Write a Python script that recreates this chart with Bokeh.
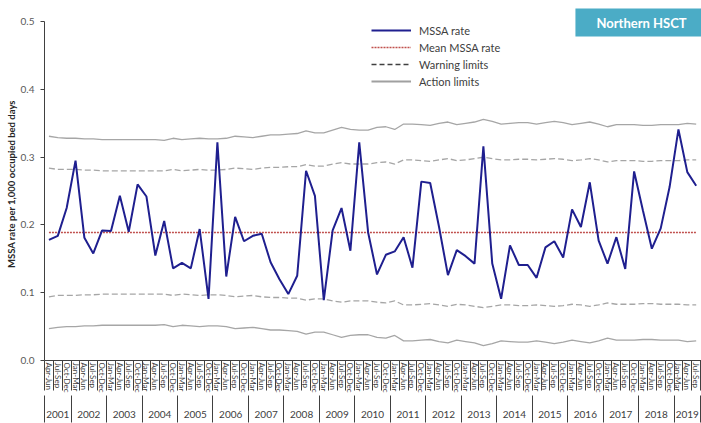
from bokeh.plotting import figure
from bokeh.models import (Range1d, LinearAxis, FixedTicker, Legend, LegendItem,
                          Label, NumeralTickFormatter)
from bokeh.embed import file_html
from bokeh.resources import INLINE

# ---------------- data ----------------
years = ["2001", "2002", "2003", "2004", "2005", "2006", "2007", "2008", "2009", "2010",
         "2011", "2012", "2013", "2014", "2015", "2016", "2017", "2018", "2019"]
first_year_quarters = ["Apr-Jun", "Jul-Sep", "Oct-Dec"]
full_year_quarters = ["Jan-Mar", "Apr-Jun", "Jul-Sep", "Oct-Dec"]
last_year_quarters = ["Jan-Mar", "Apr-Jun", "Jul-Sep"]

mssa_rate = [0.178, 0.184, 0.225, 0.295, 0.181, 0.158, 0.192, 0.191, 0.243, 0.190,
             0.260, 0.242, 0.155, 0.206, 0.136, 0.144, 0.136, 0.194, 0.091, 0.322,
             0.124, 0.212, 0.176, 0.184, 0.187, 0.145, 0.120, 0.098, 0.125, 0.280,
             0.243, 0.089, 0.192, 0.225, 0.162, 0.322, 0.189, 0.127, 0.156, 0.161,
             0.182, 0.137, 0.264, 0.262, 0.197, 0.126, 0.163, 0.154, 0.143, 0.316,
             0.143, 0.091, 0.170, 0.141, 0.141, 0.122, 0.167, 0.176, 0.152, 0.223,
             0.197, 0.263, 0.177, 0.143, 0.182, 0.135, 0.279, 0.221, 0.165, 0.195,
             0.256, 0.341, 0.278, 0.258]

mean_rate = 0.189

upper_action = [0.331, 0.329, 0.328, 0.328, 0.327, 0.327, 0.326, 0.326, 0.326, 0.326,
                0.326, 0.326, 0.326, 0.325, 0.328, 0.326, 0.327, 0.328, 0.327, 0.327,
                0.328, 0.331, 0.330, 0.329, 0.331, 0.333, 0.333, 0.334, 0.335, 0.339,
                0.336, 0.336, 0.340, 0.344, 0.341, 0.340, 0.340, 0.344, 0.345, 0.341,
                0.349, 0.349, 0.348, 0.347, 0.350, 0.352, 0.348, 0.350, 0.352, 0.356,
                0.353, 0.349, 0.350, 0.351, 0.351, 0.349, 0.351, 0.353, 0.351, 0.348,
                0.350, 0.352, 0.349, 0.345, 0.348, 0.348, 0.348, 0.347, 0.347, 0.348,
                0.348, 0.348, 0.350, 0.349]

upper_warning = [0.284, 0.282, 0.282, 0.282, 0.281, 0.281, 0.280, 0.280, 0.280, 0.280,
                 0.280, 0.280, 0.280, 0.280, 0.282, 0.280, 0.281, 0.282, 0.281, 0.281,
                 0.282, 0.284, 0.283, 0.282, 0.284, 0.285, 0.285, 0.286, 0.286, 0.289,
                 0.287, 0.287, 0.290, 0.292, 0.290, 0.290, 0.290, 0.292, 0.293, 0.290,
                 0.296, 0.296, 0.295, 0.294, 0.296, 0.298, 0.295, 0.296, 0.298, 0.300,
                 0.298, 0.296, 0.296, 0.297, 0.297, 0.296, 0.297, 0.298, 0.297, 0.295,
                 0.296, 0.298, 0.296, 0.293, 0.295, 0.295, 0.295, 0.294, 0.294, 0.295,
                 0.295, 0.295, 0.296, 0.296]

lower_warning = [0.094, 0.096, 0.096, 0.096, 0.097, 0.097, 0.098, 0.098, 0.098, 0.098,
                 0.098, 0.098, 0.098, 0.098, 0.096, 0.098, 0.097, 0.096, 0.097, 0.097,
                 0.096, 0.094, 0.095, 0.096, 0.094, 0.093, 0.093, 0.092, 0.092, 0.089,
                 0.091, 0.091, 0.088, 0.086, 0.088, 0.088, 0.088, 0.086, 0.085, 0.088,
                 0.082, 0.082, 0.083, 0.084, 0.082, 0.080, 0.083, 0.082, 0.080, 0.078,
                 0.080, 0.082, 0.082, 0.081, 0.081, 0.082, 0.081, 0.080, 0.081, 0.083,
                 0.082, 0.080, 0.082, 0.085, 0.083, 0.083, 0.083, 0.084, 0.084, 0.083,
                 0.083, 0.083, 0.082, 0.082]

lower_action = [0.047, 0.049, 0.050, 0.050, 0.051, 0.051, 0.052, 0.052, 0.052, 0.052,
                0.052, 0.052, 0.052, 0.053, 0.050, 0.052, 0.051, 0.050, 0.051, 0.051,
                0.050, 0.047, 0.048, 0.049, 0.047, 0.045, 0.045, 0.044, 0.043, 0.039,
                0.042, 0.042, 0.038, 0.034, 0.037, 0.038, 0.038, 0.034, 0.033, 0.037,
                0.029, 0.029, 0.030, 0.031, 0.028, 0.026, 0.030, 0.028, 0.026, 0.022,
                0.025, 0.029, 0.028, 0.027, 0.027, 0.029, 0.027, 0.025, 0.027, 0.030,
                0.028, 0.026, 0.029, 0.033, 0.030, 0.030, 0.030, 0.031, 0.031, 0.030,
                0.030, 0.030, 0.028, 0.029]

y_ticks = [0.0, 0.1, 0.2, 0.3, 0.4, 0.5]

# ---------------- derived positions (category index scale) ----------------
quarters_by_year = [first_year_quarters] + [full_year_quarters] * (len(years) - 2) + [last_year_quarters]
quarter_labels = [q for qs in quarters_by_year for q in qs]
n = len(quarter_labels)
x_centers = [i + 0.5 for i in range(n)]
cat_bounds = [float(i) for i in range(n + 1)]

year_bounds = [0.0]
for qs in quarters_by_year:
    year_bounds.append(year_bounds[-1] + len(qs))
year_centers = [(a + b) / 2 for a, b in zip(year_bounds[:-1], year_bounds[1:])]

FONT = "Lato"
AXIS_COL = "#404040"
TXT_COL = "#404040"
MEAN_COL = "#c0504d"

# frame extends a little above 0.5 so the title box fits inside it
p = figure(width=701, height=423, x_range=Range1d(0, 74.1), y_range=Range1d(0, 0.521),
           output_backend="svg", toolbar_location=None,
           min_border_left=44, min_border_right=0, min_border_top=7, min_border_bottom=63)
p.outline_line_color = None
p.grid.visible = False
p.background_fill_color = "white"

# hidden range used only to style legend samples
p.extra_y_ranges = {"legend_only": Range1d(10, 11)}

# ---------------- y axis ----------------
ya = p.yaxis[0]
ya.ticker = FixedTicker(ticks=y_ticks)
ya.bounds = (0, 0.5)
ya.formatter = NumeralTickFormatter(format="0.0")
ya.minor_tick_line_color = None
ya.major_tick_out = 4
ya.major_tick_in = 0
ya.major_tick_line_color = AXIS_COL
ya.axis_line_color = AXIS_COL
ya.major_label_text_font = FONT
ya.major_label_text_font_size = "10px"
ya.major_label_text_color = "#595959"
ya.major_label_standoff = 6
ya.axis_label = "MSSA rate per 1,000 occupied bed days"
ya.axis_label_text_font = FONT
ya.axis_label_text_font_size = "9.5px"
ya.axis_label_text_font_style = "bold"
ya.axis_label_text_color = "#262626"
ya.axis_label_standoff = 1

# ---------------- x axis: quarter labels ----------------
xa = p.xaxis[0]
xa.ticker = FixedTicker(ticks=x_centers, minor_ticks=cat_bounds)
xa.major_label_overrides = {c: lab for c, lab in zip(x_centers, quarter_labels)}
xa.major_tick_line_color = None
xa.major_tick_out = 0
xa.major_tick_in = 0
xa.minor_tick_out = 30
xa.minor_tick_in = 0
xa.minor_tick_line_color = AXIS_COL
xa.axis_line_color = AXIS_COL
xa.major_label_orientation = "vertical"
xa.major_label_standoff = -28
xa.major_label_text_font = FONT
xa.major_label_text_font_size = "8px"
xa.major_label_text_color = TXT_COL

# ---------------- x axis: year groups ----------------
xa2 = LinearAxis(ticker=FixedTicker(ticks=year_centers, minor_ticks=year_bounds),
                 major_label_overrides={c: y for c, y in zip(year_centers, years)},
                 axis_line_color=None, major_tick_line_color=None,
                 major_tick_out=0, major_tick_in=0,
                 minor_tick_out=27, minor_tick_in=0, minor_tick_line_color=AXIS_COL,
                 major_label_standoff=-12, major_label_text_font=FONT,
                 major_label_text_font_size="10px", major_label_text_color=TXT_COL)
p.add_layout(xa2, "below")

# ---------------- series ----------------
r_ua = p.line(x_centers, upper_action, color="#a6a6a6", line_width=1.3)
p.line(x_centers, lower_action, color="#a6a6a6", line_width=1.3)
r_uw = p.line(x_centers, upper_warning, color="#a6a6a6", line_width=1.3, line_dash="6 3")
p.line(x_centers, lower_warning, color="#a6a6a6", line_width=1.3, line_dash="6 3")
r_mean = p.line(x_centers, [mean_rate] * n, line_color=MEAN_COL, line_width=1.6,
                line_dash="2 1")
r_rate = p.line(x_centers, mssa_rate, color="#1f1f8f", line_width=2)

# legend sample styles (drawn on a range that is out of view)
r_warn_leg = p.line(x_centers, upper_warning, color="#404040", line_width=1.3,
                    line_dash="5 3", y_range_name="legend_only")
r_act_leg = p.line(x_centers, upper_action, color="#a0a0a0", line_width=1.8,
                   y_range_name="legend_only")

legend = Legend(items=[LegendItem(label="MSSA rate", renderers=[r_rate]),
                       LegendItem(label="Mean MSSA rate", renderers=[r_mean]),
                       LegendItem(label="Warning limits", renderers=[r_warn_leg]),
                       LegendItem(label="Action limits", renderers=[r_act_leg])],
                location=(327, 272), background_fill_alpha=0, border_line_color=None,
                glyph_width=40, glyph_height=14, label_height=14, label_standoff=8,
                spacing=3, padding=0, margin=0,
                label_text_font=FONT, label_text_font_size="11px", label_text_color=TXT_COL)
p.add_layout(legend)

title_box = Label(x=597, y=338, x_units="screen", y_units="screen", text="Northern HSCT",
                  text_color="white", text_font=FONT, text_font_style="bold",
                  text_font_size="13px", text_align="center", text_baseline="middle",
                  background_fill_color="#4bacc6", padding=(21, 6))
p.add_layout(title_box)

open("out.html", "w").write(file_html(p, INLINE))
